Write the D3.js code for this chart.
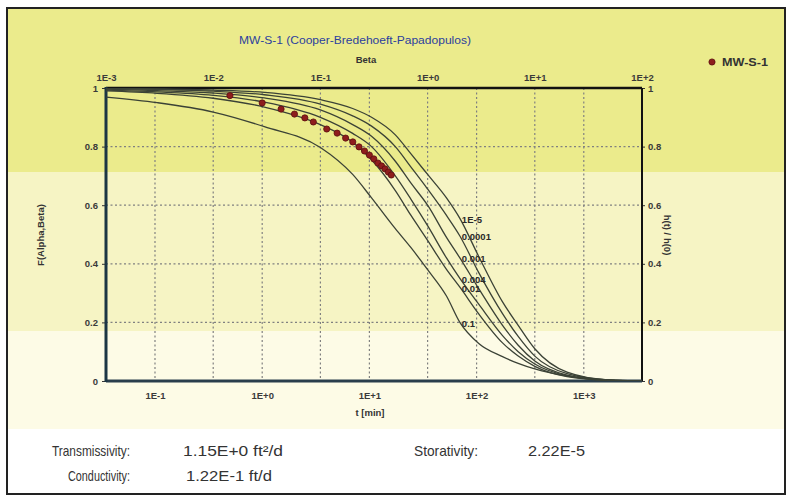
<!DOCTYPE html>
<html>
<head>
<meta charset="utf-8">
<script src="https://cdn.jsdelivr.net/npm/d3@7"></script>
<style>
  body { margin: 0; background: #fff; }
  text { font-family: "Liberation Sans", Arial, sans-serif; }
  .tick line { stroke: #333; }
  .tick text { font-size: 9.5px; font-weight: bold; fill: #3a3a3a; }
</style>
</head>
<body>
<script type="text/javascript">

  // type curve family, F(alpha, beta)
  var betaValues = [0.001, 0.003, 0.01, 0.03, 0.1, 0.2, 0.3, 0.5, 0.7, 1, 1.5, 2, 3, 5, 7, 10, 20, 50, 100];
  var curveLabels = ["1E-5", "0.0001", "0.001", "0.004", "0.01", "0.1"];
  var fA1e5 = [0.999, 0.997, 0.993, 0.985, 0.960, 0.930, 0.900, 0.840, 0.775, 0.705, 0.625, 0.555, 0.425, 0.270, 0.190, 0.110, 0.030, 0.003, 0.000];
  var fA1e4 = [0.998, 0.995, 0.989, 0.977, 0.945, 0.905, 0.870, 0.800, 0.730, 0.655, 0.565, 0.495, 0.370, 0.230, 0.152, 0.085, 0.025, 0.003, 0.000];
  var fA1e3 = [0.996, 0.991, 0.983, 0.966, 0.925, 0.875, 0.835, 0.750, 0.675, 0.600, 0.490, 0.420, 0.315, 0.190, 0.122, 0.068, 0.020, 0.002, 0.000];
  var fA4e3 = [0.993, 0.987, 0.975, 0.952, 0.900, 0.845, 0.800, 0.700, 0.620, 0.530, 0.420, 0.350, 0.262, 0.155, 0.100, 0.058, 0.018, 0.002, 0.000];
  var fA1e2 = [0.990, 0.982, 0.965, 0.935, 0.875, 0.815, 0.755, 0.650, 0.565, 0.480, 0.381, 0.320, 0.229, 0.130, 0.085, 0.050, 0.015, 0.002, 0.000];
  var fA1e1 = [0.969, 0.950, 0.918, 0.868, 0.797, 0.705, 0.625, 0.520, 0.455, 0.380, 0.290, 0.200, 0.128, 0.083, 0.060, 0.041, 0.017, 0.004, 0.000];

  // MW-S-1 observations
  var tValues = [0.5, 1, 1.5, 2, 2.5, 3, 4, 5, 6, 7, 8, 9, 10, 11, 12, 13, 14, 15, 16];
  var hRatio  = [0.974, 0.949, 0.928, 0.911, 0.898, 0.884, 0.860, 0.846, 0.829, 0.816, 0.799, 0.785, 0.771, 0.758, 0.744, 0.734, 0.724, 0.713, 0.703];

  var betaTicks = [1e-3, 1e-2, 1e-1, 1, 10, 100];
  var betaTickLabels = ["1E-3", "1E-2", "1E-1", "1E+0", "1E+1", "1E+2"];
  var tTicks = [0.1, 1, 10, 100, 1000];
  var tTickLabels = ["1E-1", "1E+0", "1E+1", "1E+2", "1E+3"];
  var yTicks = [0, 0.2, 0.4, 0.6, 0.8, 1];
  var yTickLabels = ["0", "0.2", "0.4", "0.6", "0.8", "1"];

  var w = 788, h = 495;
  var pl = 106, pr = 642, pt = 88, pb = 381;

  var svg = d3.select("body").append("svg")
      .attr("width", w)
      .attr("height", h);

  // background bands
  svg.append("rect").attr("x", 7).attr("y", 8).attr("width", 778).attr("height", 486).attr("fill", "#fff");
  svg.append("rect").attr("x", 8).attr("y", 9).attr("width", 777).attr("height", 163).attr("fill", "#ebeb8c");
  svg.append("rect").attr("x", 8).attr("y", 172).attr("width", 777).attr("height", 159).attr("fill", "#f6f4c4");
  svg.append("rect").attr("x", 8).attr("y", 331).attr("width", 777).attr("height", 98).attr("fill", "#fdfbe6");
  svg.append("rect").attr("x", 7).attr("y", 8).attr("width", 778).attr("height", 486)
      .attr("fill", "none").attr("stroke", "#222").attr("stroke-width", 2);

  var xBeta = d3.scaleLog().domain([1e-3, 1e2]).range([pl, pr]);
  var tMin = Math.pow(10, -1.457);
  var xT = d3.scaleLog().domain([tMin, tMin * 1e5]).range([pl, pr]);
  var y = d3.scaleLinear().domain([0, 1]).range([pb, pt]);

  // grid
  var grid = svg.append("g").attr("stroke", "#808080").attr("stroke-width", 1.2).attr("stroke-dasharray", "2,2.5");
  grid.selectAll(".hg").data(yTicks.slice(1, 5)).enter().append("line")
      .attr("x1", pl).attr("x2", pr)
      .attr("y1", function(d) { return y(d); }).attr("y2", function(d) { return y(d); });
  grid.selectAll(".vb").data(betaTicks.slice(1, 5)).enter().append("line")
      .attr("x1", function(d) { return xBeta(d); }).attr("x2", function(d) { return xBeta(d); })
      .attr("y1", pt).attr("y2", pb);
  grid.selectAll(".vt").data(tTicks).enter().append("line")
      .attr("x1", function(d) { return xT(d); }).attr("x2", function(d) { return xT(d); })
      .attr("y1", pt).attr("y2", pb);

  // axes
  svg.append("g").attr("transform", "translate(" + pl + ",0)")
      .call(d3.axisLeft(y).tickValues(yTicks).tickFormat(function(d, i) { return yTickLabels[i]; }).tickSize(4).tickPadding(4))
      .call(function(g) { g.select(".domain").remove(); });
  svg.append("g").attr("transform", "translate(" + pr + ",0)")
      .call(d3.axisRight(y).tickValues(yTicks).tickFormat(function(d, i) { return yTickLabels[i]; }).tickSize(3).tickPadding(3))
      .call(function(g) { g.select(".domain").remove(); });
  svg.append("g").attr("transform", "translate(0," + pt + ")")
      .call(d3.axisTop(xBeta).tickValues(betaTicks).tickFormat(function(d, i) { return betaTickLabels[i]; }).tickSize(0).tickPadding(7))
      .call(function(g) { g.select(".domain").remove(); });
  svg.append("g").attr("transform", "translate(0," + pb + ")")
      .call(d3.axisBottom(xT).tickValues(tTicks).tickFormat(function(d, i) { return tTickLabels[i]; }).tickSize(0).tickPadding(11))
      .call(function(g) { g.select(".domain").remove(); });

  // frame lines
  svg.append("line").attr("x1", pl).attr("x2", pr).attr("y1", pt).attr("y2", pt)
      .attr("stroke", "#111").attr("stroke-width", 2.5);
  svg.append("line").attr("x1", pr).attr("x2", pr).attr("y1", pt).attr("y2", pb)
      .attr("stroke", "#111").attr("stroke-width", 2);
  svg.append("line").attr("x1", pl).attr("x2", pr).attr("y1", pb).attr("y2", pb)
      .attr("stroke", "#2a3e4c").attr("stroke-width", 3);
  svg.append("line").attr("x1", pl).attr("x2", pl).attr("y1", pt - 1).attr("y2", pb + 1)
      .attr("stroke", "#1c3644").attr("stroke-width", 3);

  // type curves
  svg.append("clipPath").attr("id", "plot").append("rect")
      .attr("x", pl).attr("y", pt).attr("width", pr - pl).attr("height", pb - pt);

  var curves = [fA1e5, fA1e4, fA1e3, fA4e3, fA1e2, fA1e1];
  var line = d3.line()
      .x(function(d, i) { return xBeta(betaValues[i]); })
      .y(function(d) { return y(d); })
      .curve(d3.curveMonotoneX);

  svg.append("g").attr("clip-path", "url(#plot)")
    .selectAll("path").data(curves).enter().append("path")
      .attr("d", line)
      .attr("fill", "none")
      .attr("stroke", "#3b4236")
      .attr("stroke-width", 1.3);

  // observations
  svg.append("g").selectAll("circle").data(tValues).enter().append("circle")
      .attr("cx", function(d) { return xT(d); })
      .attr("cy", function(d, i) { return y(hRatio[i]); })
      .attr("r", 3.1)
      .attr("fill", "#8e1d1d")
      .attr("stroke", "#5c1010")
      .attr("stroke-width", 0.8);

  // curve labels at beta = 2
  var labelIdx = betaValues.indexOf(2);
  svg.append("g").selectAll("text").data(curves).enter().append("text")
      .attr("x", xBeta(2) + 2)
      .attr("y", function(d) { return y(d[labelIdx]) + 1; })
      .attr("dy", "0.35em")
      .attr("font-size", 9.5)
      .attr("font-weight", "bold")
      .attr("fill", "#2a2a2a")
      .text(function(d, i) { return curveLabels[i]; });

  // titles
  svg.append("text").attr("x", 355).attr("y", 44).attr("text-anchor", "middle")
      .attr("font-size", 11).attr("fill", "#2b3f9e")
      .attr("textLength", 232).attr("lengthAdjust", "spacingAndGlyphs")
      .text("MW-S-1 (Cooper-Bredehoeft-Papadopulos)");
  svg.append("text").attr("x", 366).attr("y", 63).attr("text-anchor", "middle")
      .attr("font-size", 9.5).attr("font-weight", "bold").attr("fill", "#333")
      .text("Beta");
  svg.append("text").attr("x", 370).attr("y", 416).attr("text-anchor", "middle")
      .attr("font-size", 9.5).attr("font-weight", "bold").attr("fill", "#333")
      .text("t [min]");
  svg.append("text").attr("transform", "translate(44,235) rotate(-90)").attr("text-anchor", "middle")
      .attr("font-size", 9.5).attr("font-weight", "bold").attr("fill", "#333")
      .text("F(Alpha,Beta)");
  svg.append("text").attr("transform", "translate(664,235) rotate(90)").attr("text-anchor", "middle")
      .attr("font-size", 9.5).attr("font-weight", "bold").attr("fill", "#333")
      .text("h(t) / h(0)");

  // legend
  svg.append("circle").attr("cx", 712).attr("cy", 62).attr("r", 3.1)
      .attr("fill", "#8e1d1d").attr("stroke", "#5c1010").attr("stroke-width", 0.8);
  svg.append("text").attr("x", 722).attr("y", 65.5)
      .attr("font-size", 10.5).attr("font-weight", "bold").attr("fill", "#333")
      .attr("textLength", 46).attr("lengthAdjust", "spacingAndGlyphs")
      .text("MW-S-1");

  // results
  var res = svg.append("g").attr("font-size", 15).attr("fill", "#333").attr("lengthAdjust", "spacingAndGlyphs");
  function result(txt, x, yy, len) {
    res.append("text").attr("x", x).attr("y", yy)
        .attr("textLength", len).attr("lengthAdjust", "spacingAndGlyphs")
        .text(txt);
  }
  result("Transmissivity:", 52, 456, 78);
  result("1.15E+0 ft²/d", 183, 456, 100);
  result("Conductivity:", 68, 481, 62);
  result("1.22E-1 ft/d", 186, 481, 86);
  result("Storativity:", 414, 456, 64);
  result("2.22E-5", 528, 456, 57);

</script>
</body>
</html>
